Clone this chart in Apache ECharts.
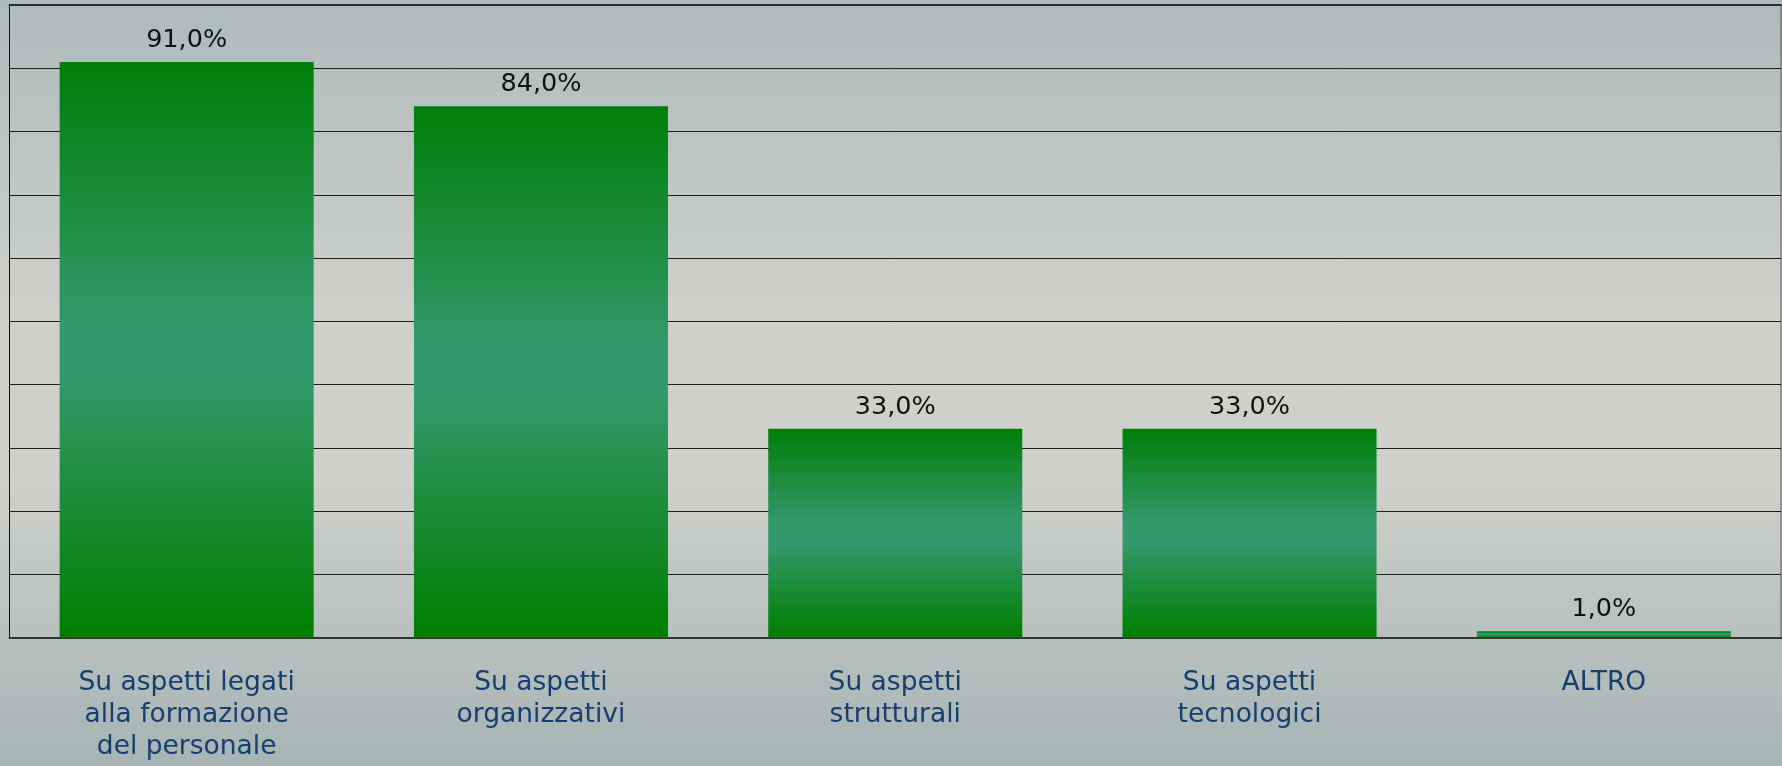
<!DOCTYPE html>
<html>
<head>
<meta charset="utf-8">
<title>Bar chart</title>
<script src="https://cdn.jsdelivr.net/npm/echarts@6/dist/echarts.min.js"></script>
<style>
  html, body { margin: 0; padding: 0; width: 1782px; height: 766px; overflow: hidden; }
  #chart { width: 1782px; height: 766px; }
</style>
</head>
<body>
<div id="chart"></div>
<script>
// Categories (line breaks as shown under each bar)
const categories = [
  "Su aspetti legati\nalla formazione\ndel personale",
  "Su aspetti\norganizzativi",
  "Su aspetti\nstrutturali",
  "Su aspetti\ntecnologici",
  "ALTRO"
];
// Percentages per category
const values = [91, 84, 33, 33, 1];

const yMin = 0;
const yMax = 100;
const yInterval = 10;

const chart = echarts.init(document.getElementById('chart'), null, { renderer: 'canvas' });

// Dark green at both ends, lighter sea-green band in the middle
const barGradient = new echarts.graphic.LinearGradient(0, 0, 0, 1, [
  { offset: 0, color: '#007f08' },
  { offset: 0.45, color: '#33986a' },
  { offset: 0.55, color: '#33986a' },
  { offset: 1, color: '#007f00' }
]);

const option = {
  animation: false,
  backgroundColor: new echarts.graphic.LinearGradient(0, 0, 0, 1, [
    { offset: 0, color: '#adbbbb' },
    { offset: 0.42, color: '#d0d0cb' },
    { offset: 0.62, color: '#d0d0cb' },
    { offset: 1, color: '#a5b4b4' }
  ]),
  grid: {
    left: 9.5,
    right: 1,
    top: 5,
    bottom: 128.5,
    show: true,
    borderColor: '#5a5a5a',
    borderWidth: 1,
    backgroundColor: 'transparent'
  },
  xAxis: [
    {
      type: 'category',
      data: categories,
      axisLine: { show: true, lineStyle: { color: '#333', width: 2 } },
      axisTick: { show: false },
      axisLabel: {
        color: '#173f6e',
        fontFamily: 'DejaVu Sans',
        fontSize: 26.5,
        lineHeight: 32,
        margin: 30,
        interval: 0
      }
    },
    {
      type: 'category',
      position: 'top',
      data: categories,
      axisLine: { show: true, lineStyle: { color: '#2b2b2b', width: 2 } },
      axisTick: { show: false },
      axisLabel: { show: false }
    }
  ],
  yAxis: {
    type: 'value',
    min: yMin,
    max: yMax,
    interval: yInterval,
    axisLine: { show: true, lineStyle: { color: '#111', width: 1 } },
    axisTick: { show: false },
    axisLabel: { show: false },
    splitLine: { show: true, lineStyle: { color: '#1e1e1e', width: 1 } }
  },
  series: [
    {
      type: 'bar',
      data: values,
      barWidth: '71.7%',
      itemStyle: { color: barGradient },
      label: {
        show: true,
        position: 'top',
        distance: 8.5,
        color: '#111',
        fontFamily: 'DejaVu Sans',
        fontSize: 25.5,
        formatter: p => p.value.toFixed(1).replace('.', ',') + '%'
      }
    }
  ]
};

chart.setOption(option);
</script>
</body>
</html>
